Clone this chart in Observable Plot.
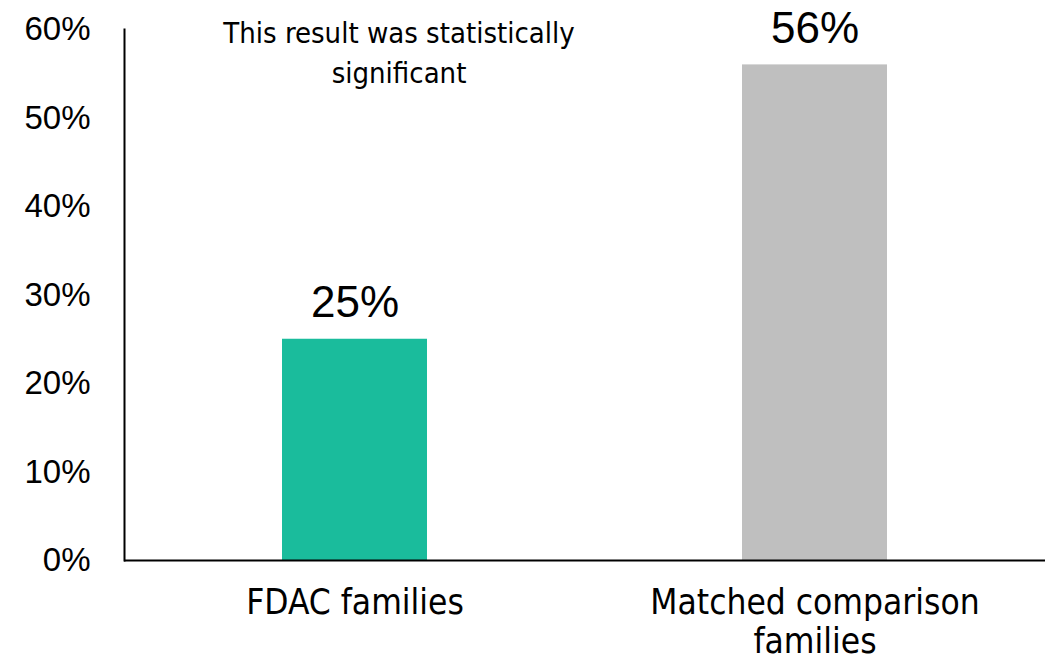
<!DOCTYPE html>
<html>
<head>
<meta charset="utf-8">
<script src="https://cdn.jsdelivr.net/npm/d3@7"></script>
<script src="https://cdn.jsdelivr.net/npm/@observablehq/plot@0.6"></script>
<style>
  html, body { margin: 0; padding: 0; background: #fff; }
  #chart svg { display: block; }
</style>
</head>
<body>
<div id="chart"></div>
<script>
// Share of families in each group (percent)
const categories = ["FDAC families", "Matched comparison families"];
const values = [25, 56];
const colors = ["#1ABC9C", "#BFBFBF"];
const categoryLabels = ["FDAC families", "Matched comparison\nfamilies"];
const yTicks = [0, 10, 20, 30, 40, 50, 60];
const note = "This result was statistically\nsignificant";

const data = categories.map((c, i) => ({category: c, value: values[i], color: colors[i]}));

const narrow = "'Liberation Sans Narrow', 'DejaVu Sans Condensed', 'Roboto', sans-serif";
const regular = "'Liberation Sans', Arial, sans-serif";

const chart = Plot.plot({
  width: 1051,
  height: 662,
  marginLeft: 124,
  marginRight: 6,
  marginTop: 29,
  marginBottom: 102,
  style: {fontFamily: regular, color: "#000", background: "#fff"},
  x: {domain: categories, paddingInner: 0.685, paddingOuter: 0.3425, axis: null},
  y: {domain: [0, 60], axis: null},
  marks: [
    Plot.barY(data, {x: "category", y: "value", fill: "color"}),
    Plot.text(data, {
      x: "category", y: "value", text: d => `${d.value}%`,
      lineAnchor: "bottom", dy: -22, fontSize: 44, fill: "#000"
    }),
    Plot.text([note], {
      x: () => categories[0], y: () => 60, text: d => d,
      lineAnchor: "middle", dx: 44, dy: 21, fontSize: 29,
      lineHeight: 1.35, fontFamily: narrow, fill: "#000"
    }),
    Plot.axisY({
      ticks: yTicks, tickFormat: d => `${d}%`, tickSize: 0, tickPadding: 34,
      fontSize: 33, fill: "#000", label: null
    }),
    Plot.axisX({
      tickSize: 0, tickPadding: 25, fontSize: 35, lineHeight: 1.13,
      fontFamily: narrow, fill: "#000", label: null,
      tickFormat: d => categoryLabels[categories.indexOf(d)]
    }),
    Plot.frame({anchor: "left", stroke: "#000", strokeWidth: 2}),
    Plot.ruleY([0], {stroke: "#000", strokeWidth: 2})
  ]
});

document.getElementById("chart").appendChild(chart);
</script>
</body>
</html>
